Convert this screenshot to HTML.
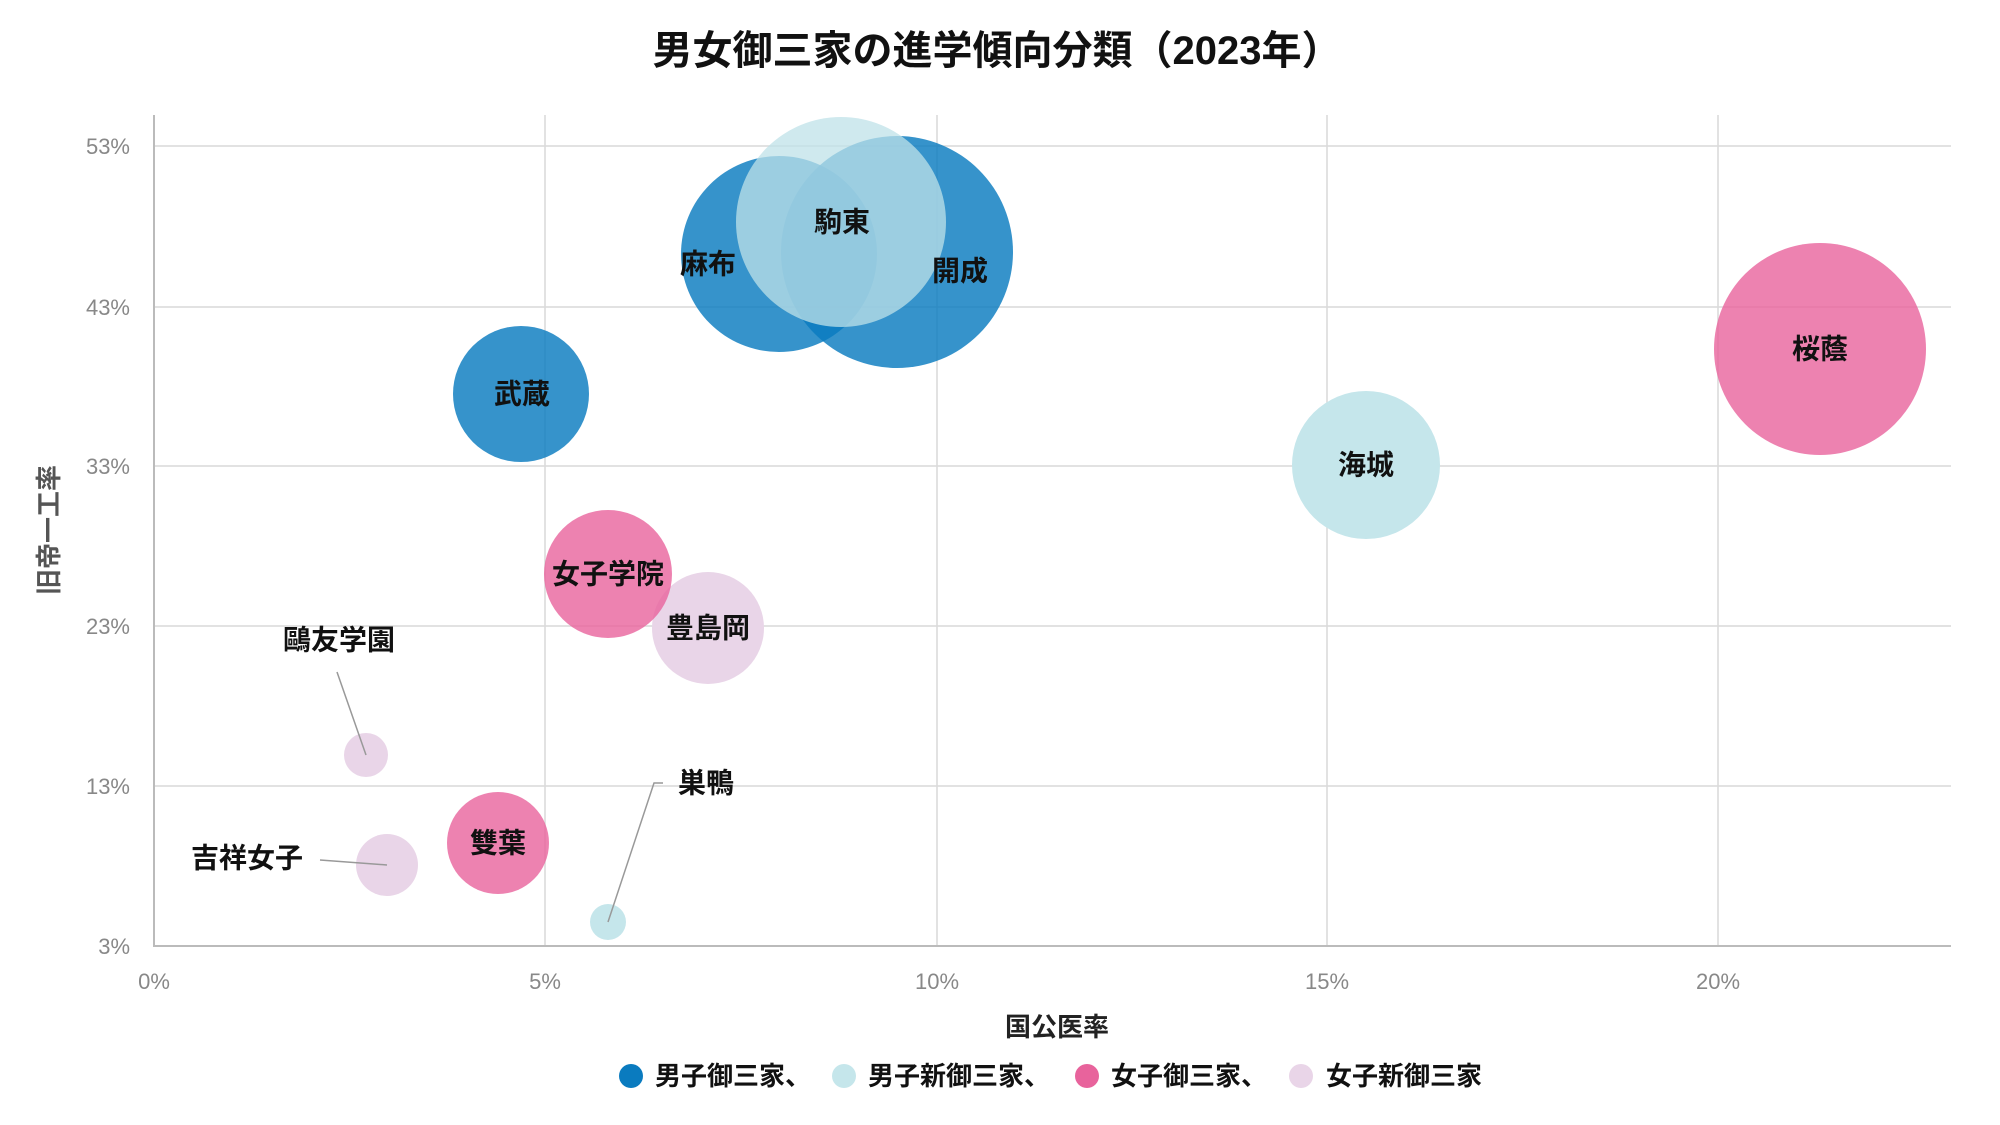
<!DOCTYPE html>
<html><head><meta charset="utf-8"><style>
html,body{margin:0;padding:0;background:#fff;}
svg{display:block;}
text{font-family:"Liberation Sans","Noto Sans CJK JP",sans-serif;}
.t{font-size:22px;fill:#888;}
.l{font-size:28px;font-weight:bold;fill:#111;text-anchor:middle;dominant-baseline:central;}
</style></head><body>
<svg width="2000" height="1125" viewBox="0 0 2000 1125" xmlns="http://www.w3.org/2000/svg">
<text x="997" y="51" font-size="40" font-weight="bold" fill="#111" text-anchor="middle" dominant-baseline="central">男女御三家の進学傾向分類（2023年）</text>
<g stroke="#d9d9d9" stroke-width="1.5">
<line x1="154" y1="146" x2="1951" y2="146"/><line x1="154" y1="307" x2="1951" y2="307"/>
<line x1="154" y1="466" x2="1951" y2="466"/><line x1="154" y1="626" x2="1951" y2="626"/>
<line x1="154" y1="786" x2="1951" y2="786"/>
<line x1="545" y1="115" x2="545" y2="946"/><line x1="937" y1="115" x2="937" y2="946"/>
<line x1="1327" y1="115" x2="1327" y2="946"/><line x1="1718" y1="115" x2="1718" y2="946"/>
</g>
<line x1="154" y1="115" x2="154" y2="947" stroke="#bbb" stroke-width="2"/>
<line x1="153" y1="946" x2="1951" y2="946" stroke="#bbb" stroke-width="2"/>
<g class="t" text-anchor="end">
<text x="130" y="154">53%</text><text x="130" y="315">43%</text><text x="130" y="474">33%</text>
<text x="130" y="634">23%</text><text x="130" y="794">13%</text><text x="130" y="954">3%</text>
</g>
<g class="t" text-anchor="middle">
<text x="154" y="989">0%</text><text x="545" y="989">5%</text><text x="937" y="989">10%</text>
<text x="1327" y="989">15%</text><text x="1718" y="989">20%</text>
</g>
<text transform="translate(49,530) rotate(-90)" font-size="26" font-weight="bold" fill="#555" text-anchor="middle" dominant-baseline="central">旧帝一工率</text>
<text x="1057" y="1027" font-size="26" font-weight="bold" fill="#222" text-anchor="middle" dominant-baseline="central">国公医率</text>
<g>
<circle cx="779" cy="254" r="98" fill="#0a7bbf" fill-opacity="0.82"/>
<circle cx="897" cy="252" r="116" fill="#0a7bbf" fill-opacity="0.82"/>
<circle cx="841" cy="222" r="105" fill="#bfe1e8" fill-opacity="0.75"/>
<circle cx="521" cy="394" r="68" fill="#0a7bbf" fill-opacity="0.82"/>
<circle cx="1820" cy="349" r="106" fill="#e8639c" fill-opacity="0.8"/>
<circle cx="1366" cy="465" r="74" fill="#c5e6eb"/>
<circle cx="708" cy="628" r="56" fill="#e9d5e8"/>
<circle cx="608" cy="574" r="64" fill="#e8639c" fill-opacity="0.8"/>
<circle cx="366" cy="755" r="22" fill="#e9d5e8"/>
<circle cx="387" cy="865" r="31" fill="#e9d5e8"/>
<circle cx="498" cy="843" r="51" fill="#e8639c" fill-opacity="0.8"/>
<circle cx="608" cy="922" r="18" fill="#c5e6eb"/>
</g>
<g stroke="#999" stroke-width="1.5" fill="none">
<line x1="337" y1="672" x2="366" y2="755"/>
<line x1="320" y1="860" x2="387" y2="865"/>
<polyline points="663,783 654,783 608,922"/>
</g>
<g class="l">
<text x="708" y="264">麻布</text><text x="960" y="271">開成</text><text x="842" y="222">駒東</text>
<text x="522" y="394">武蔵</text><text x="1820" y="349">桜蔭</text><text x="1366" y="465">海城</text>
<text x="608" y="574">女子学院</text><text x="708" y="628">豊島岡</text><text x="339" y="640">鷗友学園</text>
<text x="247" y="858">吉祥女子</text><text x="498" y="843">雙葉</text><text x="706" y="783">巣鴨</text>
</g>
<g font-size="26" font-weight="bold" fill="#111" dominant-baseline="central">
<circle cx="631" cy="1076" r="12" fill="#0a7bbf"/><text x="655" y="1076">男子御三家、</text>
<circle cx="844" cy="1076" r="12" fill="#c5e6eb"/><text x="868" y="1076">男子新御三家、</text>
<circle cx="1087" cy="1076" r="12" fill="#e8639c"/><text x="1111" y="1076">女子御三家、</text>
<circle cx="1301" cy="1076" r="12" fill="#e9d5e8"/><text x="1326" y="1076">女子新御三家</text>
</g>
</svg>
</body></html>
